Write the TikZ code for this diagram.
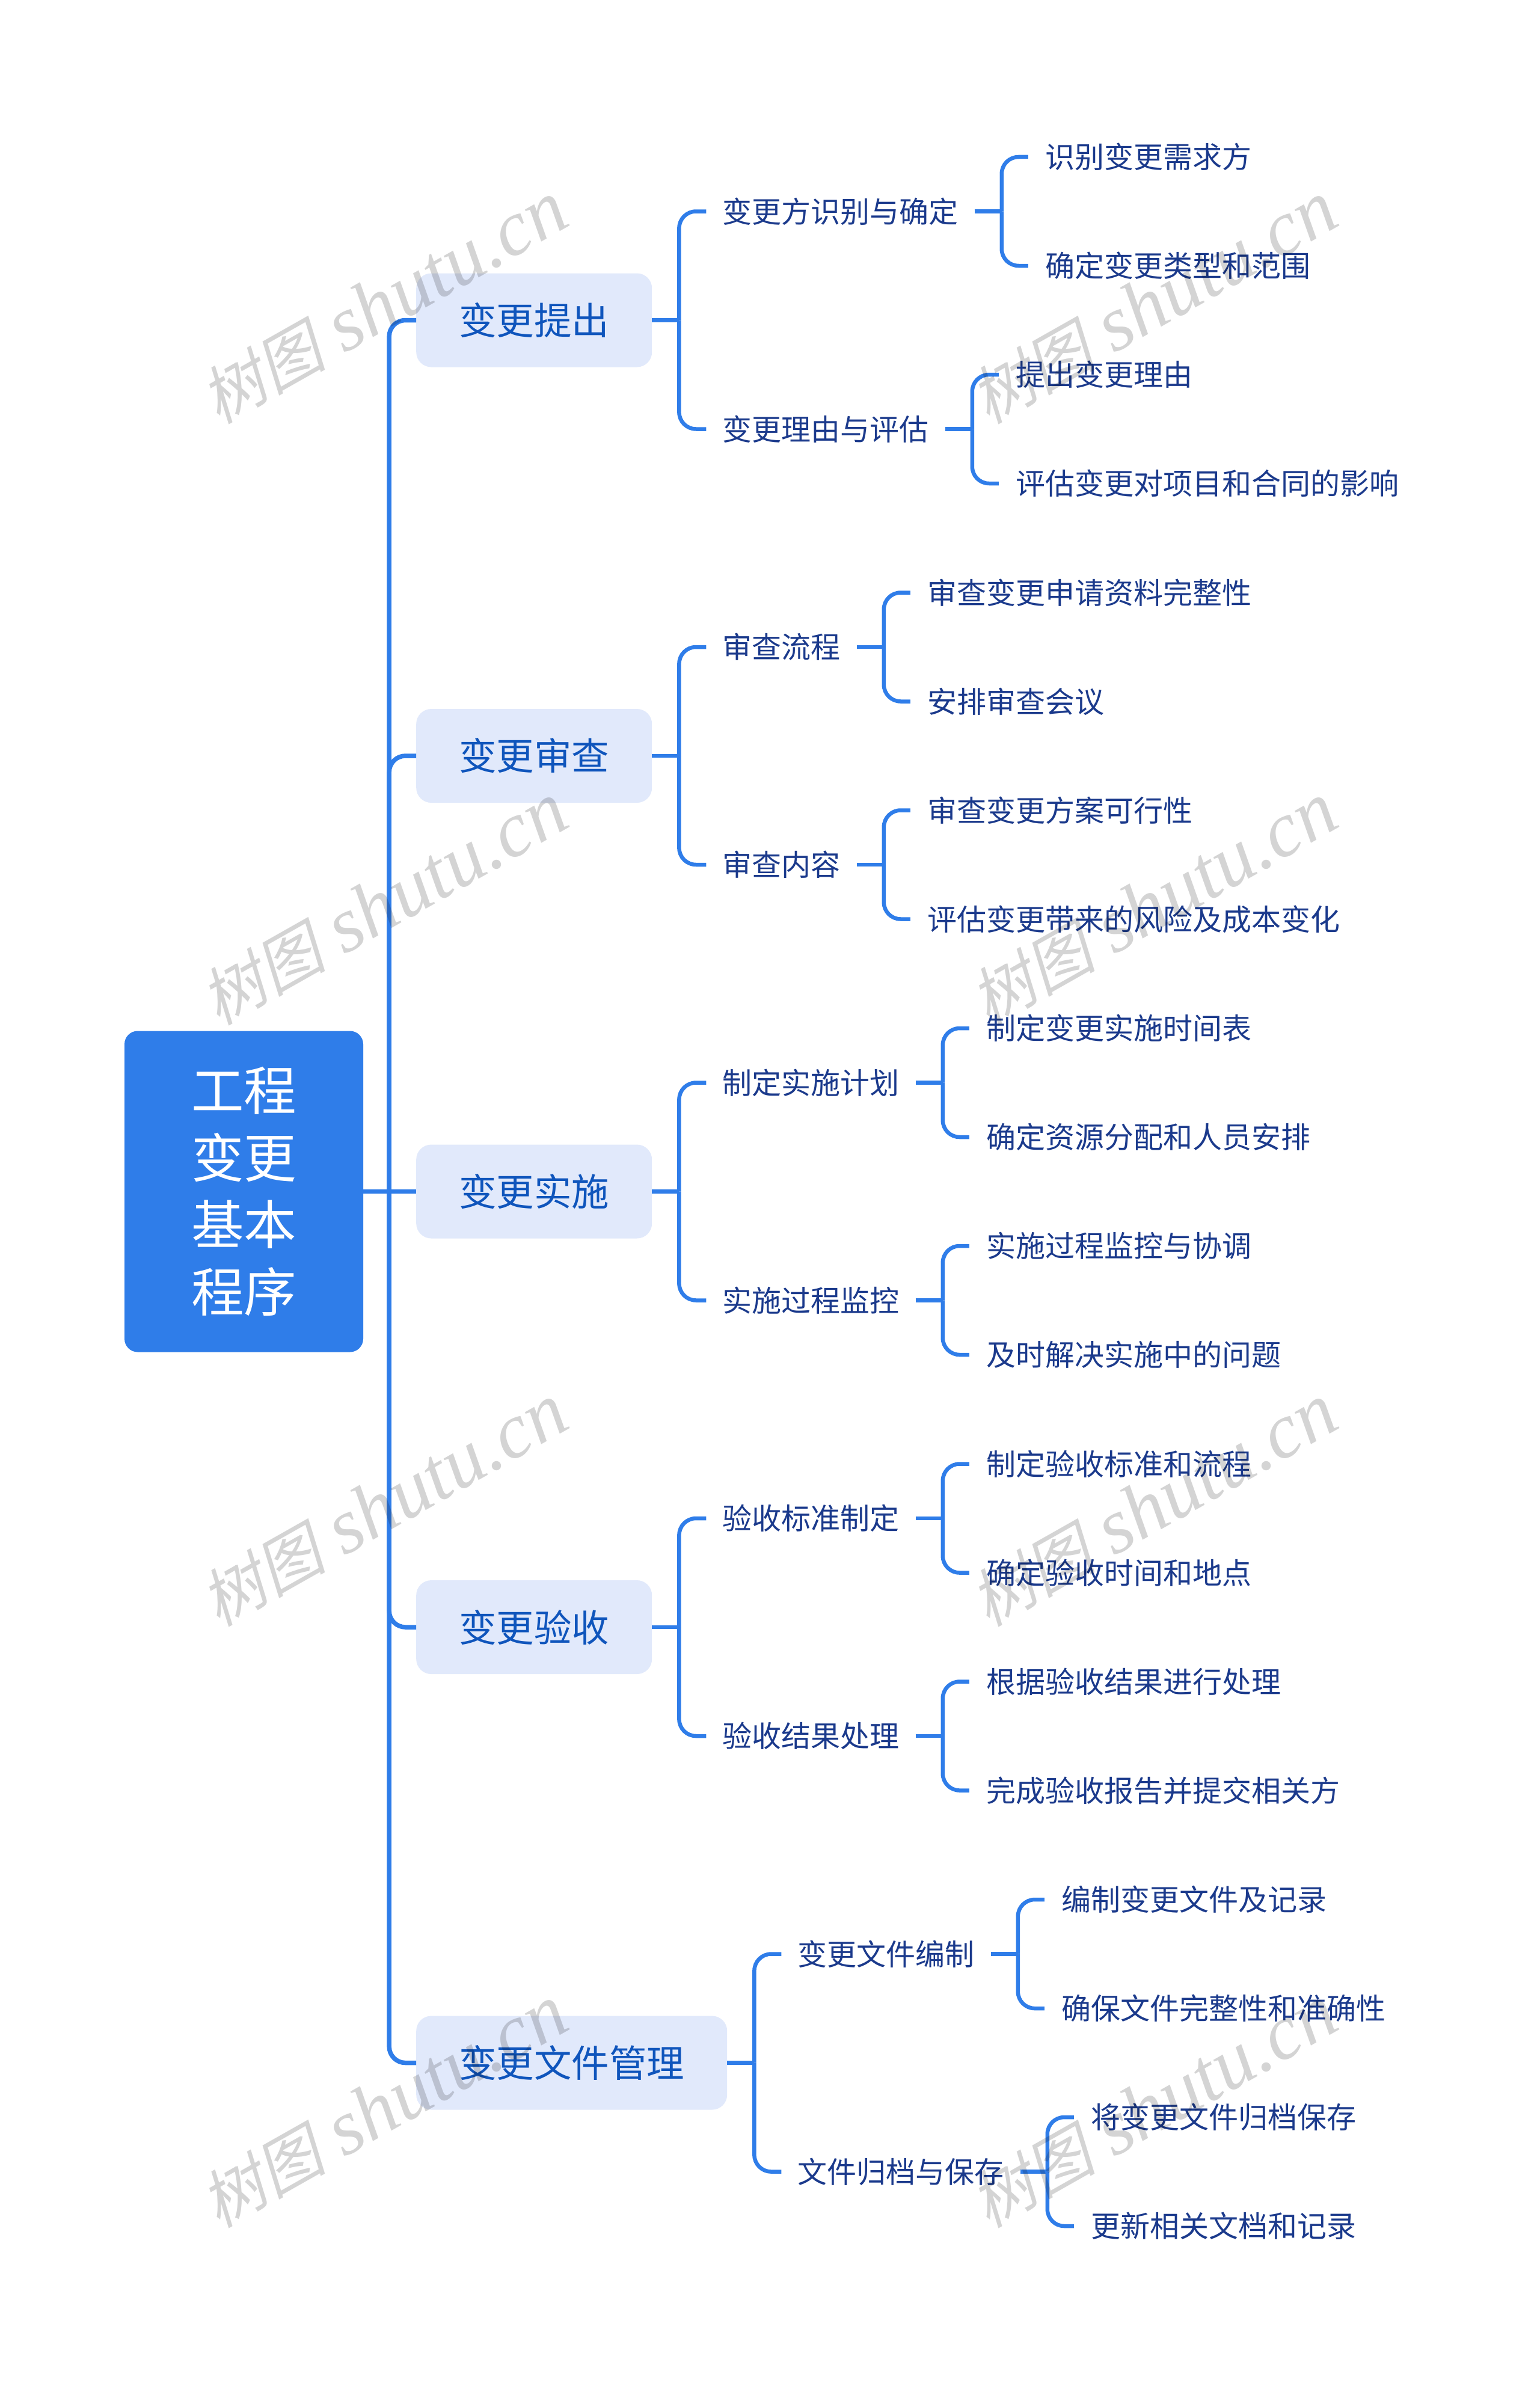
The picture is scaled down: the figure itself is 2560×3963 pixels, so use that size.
\documentclass[tikz,border=0pt]{standalone}
\usepackage{fontspec}
\usetikzlibrary{calc}
\setmainfont{Noto Sans CJK SC}
\newfontfamily\wmcjk[FakeSlant=0.22]{Noto Sans CJK SC}
\newfontfamily\wmlat{Liberation Serif}
\definecolor{linkblue}{HTML}{2F7DE9}
\definecolor{paleblue}{HTML}{E1E9FB}
\definecolor{midblue}{HTML}{0F55BC}
\definecolor{navyblue}{HTML}{1B3A8C}
\tikzset{
  rootbox/.style={fill=linkblue,text=white,rounded corners=22pt,minimum width=397pt,minimum height=534pt,inner sep=0pt,align=center,font=\fontsize{87.5}{111.5}\selectfont},
  lone/.style={anchor=west,fill=paleblue,text=midblue,rounded corners=25pt,minimum height=156pt,inner xsep=71pt,inner ysep=0pt,font=\fontsize{62.5}{70}\selectfont},
  ltwo/.style={anchor=west,text=navyblue,minimum height=70pt,inner xsep=27pt,inner ysep=0pt,font=\fontsize{49}{56}\selectfont},
  lthree/.style={ltwo,inner xsep=28.5pt},
  trunk/.style={draw=linkblue,line width=7.5pt},
  twig/.style={draw=linkblue,line width=6.5pt},
  wmark/.style={rotate=29.5,text=black,text opacity=0.17,inner sep=0pt}
}
\newcommand{\twiglink}[2]{%
  \draw[twig] (#1.east) -- ($(#1.east)+(45,0)$);
  \draw[twig,rounded corners=28pt] ($(#1.east)+(45,0)$) |- (#2.west);}
% family: L2 name, y, text, leaf1, leaf2, parent
\newcommand{\family}[6]{%
  \coordinate (#1x) at ($(#6.east)+(90,0)$);
  \coordinate (#1y) at (0,#2);
  \node[ltwo] (#1) at (#1x |- #1y) {#3};
  \node[lthree] (#1a) at ($(#1.east)+(89,-90.5)$) {#4};
  \node[lthree] (#1b) at ($(#1.east)+(89,90.5)$) {#5};
  \twiglink{#6}{#1}
  \twiglink{#1}{#1a}
  \twiglink{#1}{#1b}}
\begin{document}
\begin{tikzpicture}[x=1pt,y=-1pt]
\useasboundingbox (0,0) rectangle (2560,3963);
\fill[white] (0,0) rectangle (2560,3963);
\node[rootbox] (root) at (405.5,1981.5) {工程\\变更\\基本\\程序};
\node[lone] (A) at (692,532.5) {变更提出};
\node[lone] (B) at (692,1257) {变更审查};
\node[lone] (C) at (692,1981.5) {变更实施};
\node[lone] (D) at (692,2706) {变更验收};
\node[lone] (E) at (692,3430.5) {变更文件管理};
\draw[trunk] (root.east) -- (C.west);
\foreach \n in {A,B,D,E}{\draw[trunk,rounded corners=27pt] ($(root.east)+(43,0)$) |- (\n.west);}
\family{a}{351.5}{变更方识别与确定}{识别变更需求方}{确定变更类型和范围}{A}
\family{b}{713.5}{变更理由与评估}{提出变更理由}{评估变更对项目和合同的影响}{A}
\family{c}{1076}{审查流程}{审查变更申请资料完整性}{安排审查会议}{B}
\family{d}{1438}{审查内容}{审查变更方案可行性}{评估变更带来的风险及成本变化}{B}
\family{e}{1800.5}{制定实施计划}{制定变更实施时间表}{确定资源分配和人员安排}{C}
\family{f}{2162.5}{实施过程监控}{实施过程监控与协调}{及时解决实施中的问题}{C}
\family{g}{2525}{验收标准制定}{制定验收标准和流程}{确定验收时间和地点}{D}
\family{h}{2887}{验收结果处理}{根据验收结果进行处理}{完成验收报告并提交相关方}{D}
\family{i}{3249.5}{变更文件编制}{编制变更文件及记录}{确保文件完整性和准确性}{E}
\family{j}{3611.5}{文件归档与保存}{将变更文件归档保存}{更新相关文档和记录}{E}
\foreach \wx in {638,1918}{\foreach \wy in {504,1504,2504,3504}{
  \node[wmark] (wm\wx-\wy) at (\wx,\wy) {{\fontsize{105}{130}\selectfont\wmcjk 树图}\hspace{30pt}{\fontsize{130}{130}\selectfont\wmlat\itshape shutu.cn}};
}}
\end{tikzpicture}
\end{document}
